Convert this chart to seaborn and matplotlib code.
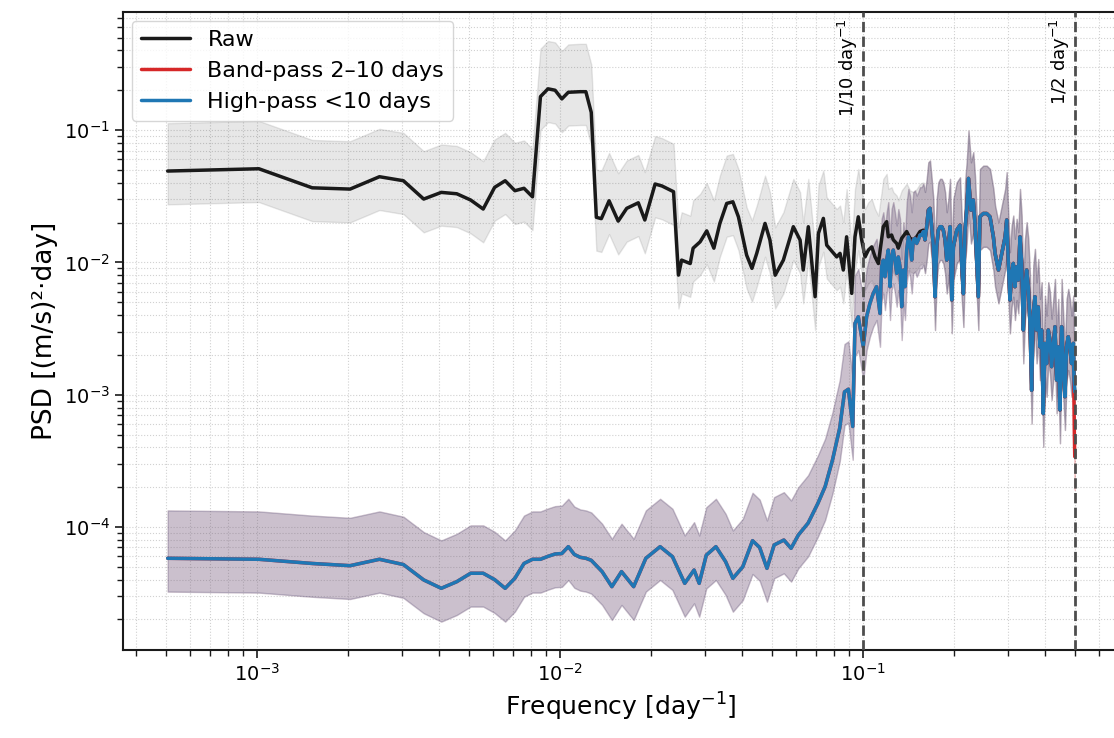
import numpy as np
import matplotlib
matplotlib.use('Agg')
import matplotlib.pyplot as plt
import matplotlib.ticker as mticker
import seaborn as sns

# Raw spectrum, low and middle frequencies [day^-1], PSD [(m/s)^2 day]
raw_freq = [5.07e-4, 1.014e-3, 1.521e-3, 2.028e-3, 2.535e-3, 3.042e-3, 3.549e-3, 4.056e-3,
            4.563e-3, 5.07e-3, 5.577e-3, 6.084e-3, 6.591e-3, 7.098e-3, 7.605e-3, 8.112e-3,
            8.619e-3, 9.126e-3, 9.633e-3, 0.01014, 0.01065, 0.01115, 0.01166, 0.01217,
            0.01268, 0.01318, 0.01369, 0.01452, 0.01556, 0.0166, 0.01813, 0.01905,
            0.0206, 0.0217, 0.0237, 0.0246, 0.0252, 0.0269, 0.0275, 0.029, 0.0305,
            0.0322, 0.0337, 0.0355, 0.0372, 0.0388, 0.0413, 0.043, 0.0446, 0.0475,
            0.0493, 0.0513, 0.0546, 0.0589, 0.062, 0.0635, 0.066, 0.0695, 0.0713,
            0.074, 0.0759, 0.0819, 0.084, 0.0861, 0.0883, 0.0918, 0.0941, 0.0965,
            0.099, 0.1016, 0.1042, 0.1069, 0.1096,
            0.1124, 0.1152, 0.1167, 0.1197, 0.1212, 0.1243, 0.1259, 0.1292, 0.1308,
            0.1342, 0.1394, 0.143, 0.1466, 0.1504, 0.1542, 0.1582]
raw_psd = [0.049, 0.051, 0.0366, 0.0358, 0.0444, 0.0414, 0.0301, 0.0338,
           0.033, 0.0296, 0.0253, 0.0369, 0.0414, 0.0348, 0.0363, 0.0313,
           0.179, 0.205, 0.200, 0.172, 0.193, 0.194, 0.195, 0.195,
           0.136, 0.0219, 0.0214, 0.0292, 0.0205, 0.0256, 0.0282, 0.0209,
           0.0391, 0.0378, 0.0342, 0.00801, 0.0104, 0.0098, 0.0128, 0.0143, 0.0173,
           0.0128, 0.0197, 0.0279, 0.0287, 0.0221, 0.01135, 0.00901, 0.0117, 0.0197,
           0.01475, 0.008, 0.0104, 0.0186, 0.01475, 0.00875, 0.0186, 0.0055, 0.0166,
           0.0215, 0.0135, 0.011, 0.0117, 0.00875, 0.0156, 0.00583, 0.0156, 0.0221,
           0.0148, 0.011, 0.0124, 0.0131, 0.011,
           0.0098, 0.0148, 0.0186, 0.0203, 0.0156, 0.0161, 0.0148, 0.0139, 0.0128,
           0.0152, 0.0171, 0.0152, 0.0148, 0.0156, 0.0171, 0.0175]

# High-pass <10 days, low and middle frequencies
hp_freq = [5.07e-4, 1.014e-3, 1.521e-3, 2.028e-3, 2.535e-3, 3.042e-3, 3.549e-3, 4.056e-3,
           4.563e-3, 5.07e-3, 5.577e-3, 6.084e-3, 6.591e-3, 7.098e-3, 7.605e-3, 8.112e-3,
           8.619e-3, 9.126e-3, 9.633e-3, 0.01014, 0.01065, 0.01115, 0.01166, 0.01217,
           0.01268, 0.01377, 0.01483, 0.01596, 0.0175, 0.0192, 0.0214, 0.0235, 0.0258,
           0.0277, 0.0288, 0.0304, 0.0327, 0.0352, 0.0372, 0.0401, 0.0432, 0.0456,
           0.0482, 0.0509, 0.0548, 0.0579, 0.0612, 0.0659, 0.071, 0.075, 0.0793,
           0.0838, 0.0869, 0.0895, 0.0925, 0.0941, 0.0965, 0.099, 0.1002, 0.1028,
           0.1054, 0.1081, 0.1109,
           0.1138, 0.1152, 0.1167, 0.1182, 0.1197, 0.1212, 0.1228, 0.1243, 0.1259,
           0.1275, 0.1292, 0.1308, 0.1325, 0.1342, 0.1359, 0.1376, 0.1394, 0.1412,
           0.143, 0.1448, 0.1466, 0.1485, 0.1504, 0.1523, 0.1542, 0.1562, 0.1582]
hp_psd = [5.8e-5, 5.7e-5, 5.3e-5, 5.1e-5, 5.7e-5, 5.2e-5, 3.98e-5, 3.44e-5,
          3.86e-5, 4.47e-5, 4.47e-5, 4.0e-5, 3.44e-5, 4.1e-5, 5.3e-5, 5.7e-5,
          5.7e-5, 6.0e-5, 6.25e-5, 6.3e-5, 7.1e-5, 6.2e-5, 5.9e-5, 5.8e-5,
          5.6e-5, 4.6e-5, 3.54e-5, 4.6e-5, 3.54e-5, 5.8e-5, 7.1e-5, 5.97e-5, 3.75e-5,
          4.73e-5, 3.75e-5, 6.13e-5, 7.1e-5, 5.47e-5, 4.09e-5, 5.0e-5, 7.88e-5, 7.0e-5,
          4.87e-5, 7.31e-5, 7.97e-5, 6.9e-5, 8.7e-5, 1.07e-4, 1.51e-4, 2.02e-4, 3.2e-4,
          5.6e-4, 1.05e-3, 1.1e-3, 5.75e-4, 3.46e-3, 3.88e-3, 2.74e-3, 2.3e-3, 3.88e-3,
          4.9e-3, 5.83e-3, 6.55e-3,
          4.11e-3, 9.27e-3, 0.0104, 7.78e-3, 0.0104, 0.0124, 6.55e-3, 0.011, 0.0124,
          0.0104, 8.26e-3, 0.011, 9.27e-3, 4.62e-3, 8.75e-3, 6.55e-3, 0.0124, 0.0156,
          0.0139, 0.0104, 0.0148, 0.0152, 0.0139, 0.0148, 0.0161, 0.0161, 0.0171]

# High frequencies, where raw, band-pass and high-pass coincide
hf_freq = [0.1602, 0.1623, 0.1643, 0.1664, 0.1686, 0.1707, 0.1729, 0.1751, 0.1773,
           0.1796, 0.1819, 0.1842, 0.1866, 0.189, 0.1914, 0.1938, 0.1963, 0.1988,
           0.2039, 0.2091, 0.2118, 0.2145, 0.2172, 0.2199, 0.223, 0.2272, 0.2312,
           0.2342, 0.2403, 0.2432, 0.2495, 0.256, 0.2626, 0.2694, 0.2729, 0.28,
           0.2872, 0.2946, 0.2981, 0.3019,
           0.3055, 0.3095, 0.3134, 0.3174, 0.3215, 0.3256, 0.3298, 0.334, 0.3382,
           0.3425, 0.3469, 0.3513, 0.3558, 0.3603, 0.3648, 0.3695, 0.3742, 0.3789,
           0.3838, 0.3887, 0.3936, 0.3987, 0.4038, 0.4089, 0.4141, 0.4194, 0.4247,
           0.4302, 0.4357, 0.4412, 0.4469, 0.4526, 0.4582, 0.4641, 0.47, 0.4759,
           0.482, 0.4881, 0.4943]
hf_psd = [0.0148, 0.0186, 0.0248, 0.0256, 0.0186, 0.0131, 0.0055, 0.0131, 0.0175,
          0.0186, 0.0186, 0.0175, 0.0148, 0.0104, 0.0131, 0.0186, 0.0052, 0.0131,
          0.0175, 0.0191, 0.0095, 0.0058, 0.0175, 0.0248, 0.0431, 0.0248, 0.0296,
          0.0197, 0.0055, 0.0221, 0.0234, 0.0234, 0.0221, 0.0156, 0.0117, 0.00875,
          0.0117, 0.0156, 0.0209, 0.0098,
          5.19e-3, 8.26e-3, 9.82e-3, 6.55e-3, 9.27e-3, 7.35e-3, 0.0156, 9.82e-3, 3.08e-3,
          6.55e-3, 8.75e-3, 6.55e-3, 3.46e-3, 1.08e-3, 4.11e-3, 5.5e-3, 3.08e-3, 4.61e-3,
          2.3e-3, 3.08e-3, 7.2e-4, 2.44e-3, 1.72e-3, 3.08e-3, 2.59e-3, 1.63e-3, 2.3e-3,
          3.26e-3, 1.29e-3, 2.3e-3, 7.66e-4, 3.26e-3, 1.72e-3, 9.66e-4, 2.3e-3, 2.74e-3,
          2.3e-3, 1.72e-3, 2.44e-3]

# last points up to the Nyquist frequency
hp_end_freq = [0.497, 0.5]
hp_end_psd = [0.0013, 0.00105]
bp_end_freq = [0.497, 0.4985, 0.5]
bp_end_psd = [0.0008, 0.0005, 0.00034]

ci_low = 0.56
ci_high = 2.3

raw_f = np.array(raw_freq + hf_freq + hp_end_freq)
raw_p = np.array(raw_psd + hf_psd + hp_end_psd)
bp_f = np.array(hp_freq + hf_freq + bp_end_freq)
bp_p = np.array(hp_psd + hf_psd + bp_end_psd)
hp_f = np.array(hp_freq + hf_freq + hp_end_freq)
hp_p = np.array(hp_psd + hf_psd + hp_end_psd)

sns.set_theme(style='ticks')
plt.rcParams['font.family'] = ['DejaVu Sans']
plt.rcParams['text.color'] = 'black'
plt.rcParams['axes.labelcolor'] = 'black'
plt.rcParams['xtick.color'] = 'black'
plt.rcParams['ytick.color'] = 'black'

fig = plt.figure(figsize=(11.14, 7.38), dpi=100)
ax = fig.add_axes([0.1104, 0.1192, 0.8936, 0.8645])
ax.set_xscale('log')
ax.set_yscale('log')

# confidence bands
ax.fill_between(raw_f, raw_p * ci_low, raw_p * ci_high, color='k', alpha=0.1, zorder=1)
ax.fill_between(bp_f, bp_p * ci_low, bp_p * ci_high, color='#d62728', alpha=0.2, zorder=1)
ax.fill_between(hp_f, hp_p * ci_low, hp_p * ci_high, color='#1f77b4', alpha=0.2, zorder=1)

sns.lineplot(x=raw_f, y=raw_p, ax=ax, color='k', lw=2.5, label='Raw', zorder=3)
sns.lineplot(x=bp_f, y=bp_p, ax=ax, color='#d62728', lw=2.5, label='Band-pass 2–10 days', zorder=3)
sns.lineplot(x=hp_f, y=hp_p, ax=ax, color='#1f77b4', lw=2.5, label='High-pass <10 days', zorder=3)

# cut-off frequencies
for fc, txt in [(0.1, '1/10 day$^{-1}$'), (0.5, '1/2 day$^{-1}$')]:
    ax.axvline(fc, color='0.3', ls='--', lw=2, zorder=4)
    ax.text(fc / 1.022, 0.99, txt, rotation=90, ha='right', va='top', fontsize=13,
            transform=ax.get_xaxis_transform())

ax.set_xlim(3.61e-4, 0.697)
ax.set_ylim(1.175e-5, 0.78)
ax.xaxis.set_minor_locator(mticker.LogLocator(base=10, subs=np.arange(2, 10), numticks=20))
ax.yaxis.set_minor_locator(mticker.LogLocator(base=10, subs=np.arange(2, 10), numticks=20))
ax.xaxis.set_minor_formatter(mticker.NullFormatter())
ax.yaxis.set_minor_formatter(mticker.NullFormatter())
ax.grid(True, which='both', ls=':', color='0.82', lw=0.8)
ax.tick_params(which='major', direction='out', length=6, width=1.2, labelsize=14, color='k')
ax.tick_params(which='minor', direction='out', length=4, width=1.0, color='k')
for sp in ax.spines.values():
    sp.set_color('k')
    sp.set_linewidth(1.5)

ax.set_xlabel('Frequency [day$^{-1}$]', fontsize=18)
ax.set_ylabel('PSD [(m/s)²·day]', fontsize=19)
ax.legend(loc='upper left', fontsize=16, handlelength=2.2, frameon=True, framealpha=0.8,
          borderaxespad=0.4)

fig.savefig('out.png', dpi=100)
